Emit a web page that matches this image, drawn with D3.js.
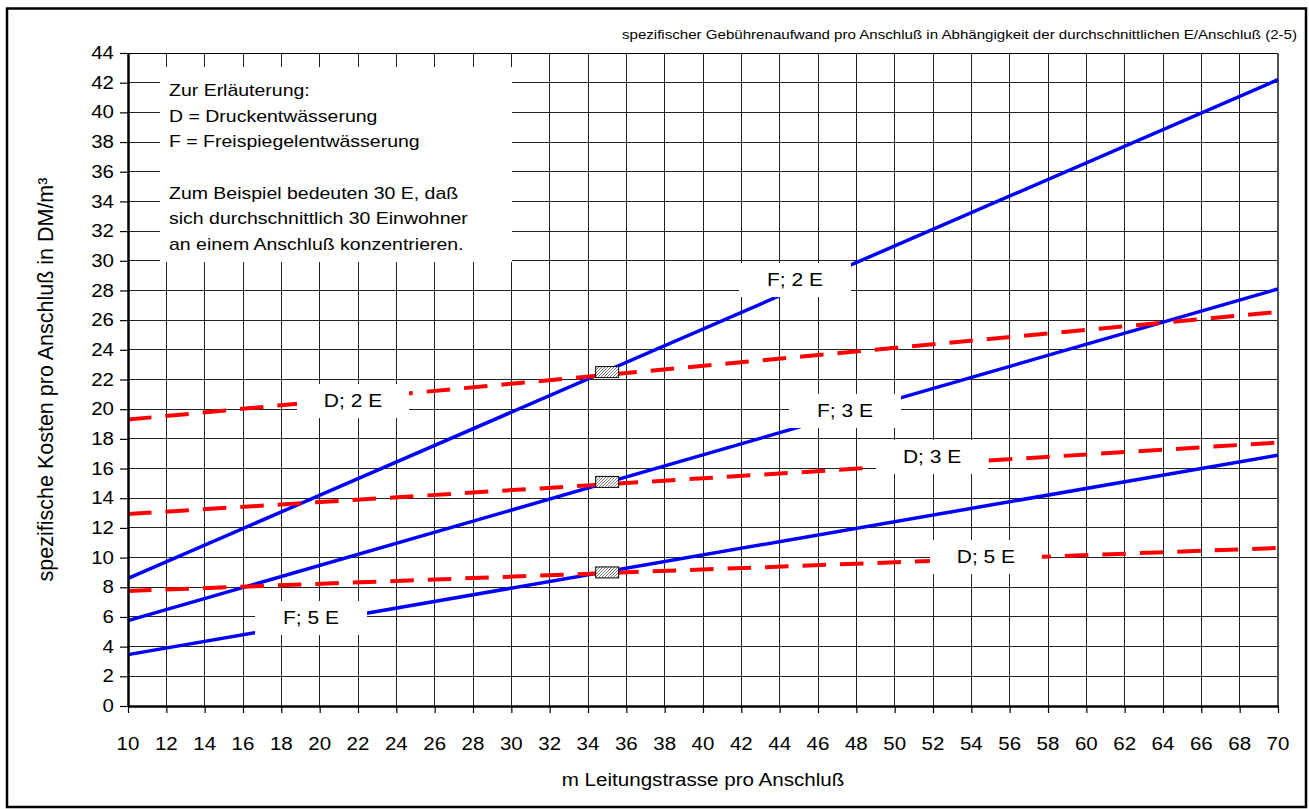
<!DOCTYPE html>
<html>
<head>
<meta charset="utf-8">
<script src="https://cdn.jsdelivr.net/npm/d3@7"></script>
<style>
  body { margin: 0; background: #fff; }
  text { font-family: Arial, "Liberation Sans", sans-serif; fill: #000; }
</style>
</head>
<body>
<svg id="chart" width="1309" height="809"></svg>
<script>
// Axis ranges and tick labels
const xDomain = [10, 70];
const yDomain = [0, 44];
const xTicks = d3.range(10, 71, 2);
const yTicks = d3.range(0, 45, 2);

// m Leitungstrasse pro Anschluß at both ends of every cost line
const trasse = [10, 70];

// Freispiegelentwässerung (F), DM/m³
const F2 = [8.6, 42.2];
const F3 = [5.75, 28.1];
const F5 = [3.46, 16.9];

// Druckentwässerung (D), DM/m³
const D2 = [19.3, 26.55];
const D3 = [12.94, 17.75];
const D5 = [7.75, 10.65];

// Break-even markers at 35 m
const markerX = 35;
const markerY = [22.5, 15.1, 9.0];

// Line labels and their anchors (data units)
const labelNames = ["F; 2 E", "D; 2 E", "F; 3 E", "D; 3 E", "D; 5 E", "F; 5 E"];
const labelAtX = [44.8, 21.74, 47.41, 51.95, 54.76, 19.55];
const labelAtY = [28.7, 20.55, 19.88, 16.78, 10.04, 5.93];

const legendLines = [
  "Zur Erläuterung:",
  "D = Druckentwässerung",
  "F = Freispiegelentwässerung",
  "",
  "Zum Beispiel bedeuten 30 E, daß",
  "sich durchschnittlich 30 Einwohner",
  "an einem Anschluß konzentrieren."
];

const title = "spezifischer Gebührenaufwand pro Anschluß in Abhängigkeit der durchschnittlichen E/Anschluß (2-5)";
const xTitle = "m Leitungstrasse pro Anschluß";
const yTitle = "spezifische Kosten pro Anschluß in DM/m³";

const series = [
  { values: F2, kind: "F" }, { values: F3, kind: "F" }, { values: F5, kind: "F" },
  { values: D2, kind: "D" }, { values: D3, kind: "D" }, { values: D5, kind: "D" }
];

// Layout
const plot = { left: 128, right: 1278, top: 53, bottom: 706 };
const SY = 0.85; // glyphs are set slightly flattened

const svg = d3.select("#chart");
const x = d3.scaleLinear().domain(xDomain).range([plot.left, plot.right]);
const y = d3.scaleLinear().domain(yDomain).range([plot.bottom, plot.top]);

// Outer frame
svg.append("rect")
  .attr("x", 7).attr("y", 8.5).attr("width", 1299).attr("height", 798.5)
  .attr("fill", "#fff").attr("stroke", "#000").attr("stroke-width", 2.5);

// Hatch pattern for the markers
const defs = svg.append("defs");
const pat = defs.append("pattern").attr("id", "hatch")
  .attr("patternUnits", "userSpaceOnUse").attr("width", 3).attr("height", 3);
pat.append("rect").attr("width", 3).attr("height", 3).attr("fill", "#fff");
pat.append("path").attr("d", "M-1,1 L1,-1 M0,3 L3,0 M2,4 L4,2")
  .attr("stroke", "#666").attr("stroke-width", 0.9);

// Grid
const grid = svg.append("g").attr("shape-rendering", "crispEdges");
grid.selectAll("line.v").data(xTicks.filter(t => t > xDomain[0] && t < xDomain[1]))
  .join("line").attr("class", "v")
  .attr("x1", d => x(d)).attr("x2", d => x(d))
  .attr("y1", plot.top).attr("y2", plot.bottom)
  .attr("stroke", "#222").attr("stroke-width", 1);
grid.selectAll("line.h").data(yTicks.filter(t => t > yDomain[0] && t < yDomain[1]))
  .join("line").attr("class", "h")
  .attr("x1", plot.left).attr("x2", plot.right)
  .attr("y1", d => y(d)).attr("y2", d => y(d))
  .attr("stroke", "#222").attr("stroke-width", 1);
// top and right edges of the plot area
grid.append("line").attr("x1", plot.left).attr("x2", plot.right)
  .attr("y1", plot.top).attr("y2", plot.top).attr("stroke", "#000");
grid.append("line").attr("x1", plot.right).attr("x2", plot.right)
  .attr("y1", plot.top).attr("y2", plot.bottom).attr("stroke", "#555").attr("stroke-width", 2);

// Cost lines
const line = d3.line().x((d, i) => x(trasse[i])).y(d => y(d));
svg.append("g").selectAll("path").data(series).join("path")
  .attr("d", d => line(d.values))
  .attr("fill", "none")
  .attr("stroke", d => d.kind === "F" ? "#0000ff" : "#ff0000")
  .attr("stroke-width", d => d.kind === "F" ? 3.5 : 4)
  .attr("stroke-dasharray", d => d.kind === "D" ? "23.5,14" : null);

// Text helper: flattened glyphs around an anchor point
function label(g, tx, ty, str, size, anchor) {
  return g.append("text")
    .attr("transform", `translate(${tx},${ty}) scale(1,${SY})`)
    .attr("dy", "0.35em")
    .attr("text-anchor", anchor || "start")
    .attr("font-size", size)
    .text(str);
}

// Line labels on white boxes
const labels = svg.append("g");
labelNames.forEach((name, i) => {
  const cx = x(labelAtX[i]), cy = y(labelAtY[i]);
  labels.append("rect")
    .attr("x", cx - 56).attr("y", cy - 17).attr("width", 112).attr("height", 34)
    .attr("fill", "#fff");
  label(labels, cx, cy, name, 21, "middle");
});

// Explanation box
const legend = svg.append("g");
legend.append("rect").attr("x", 160).attr("y", 67).attr("width", 352).attr("height", 195)
  .attr("fill", "#fff");
legendLines.forEach((s, i) => {
  if (s) label(legend, 169, 90 + i * 25.7, s, 19.5, "start");
});

// Markers
svg.append("g").selectAll("rect").data(markerY).join("rect")
  .attr("x", x(markerX) - 11.5).attr("y", d => y(d) - 5.5)
  .attr("width", 23).attr("height", 11)
  .attr("fill", "url(#hatch)").attr("stroke", "#000").attr("stroke-width", 1);

// Axes
const xAxis = svg.append("g").attr("transform", `translate(0,${plot.bottom})`)
  .call(d3.axisBottom(x).tickValues(xTicks).tickSize(7).tickSizeOuter(0));
xAxis.select(".domain").attr("stroke-width", 2.5);
xAxis.selectAll(".tick line").attr("stroke-width", 1.2);
xAxis.selectAll(".tick text").remove();

const yAxis = svg.append("g").attr("transform", `translate(${plot.left},0)`)
  .call(d3.axisLeft(y).tickValues(yTicks).tickSize(8).tickSizeOuter(0));
yAxis.select(".domain").attr("stroke-width", 2.5);
yAxis.selectAll(".tick line").attr("stroke-width", 1.2);
yAxis.selectAll(".tick text").remove();

const tickText = svg.append("g");
xTicks.forEach(t => label(tickText, x(t), 744, String(t), 20.5, "middle"));
yTicks.forEach(t => label(tickText, 114, y(t), String(t), 20.5, "end"));

// Titles
label(svg, (plot.left + plot.right) / 2, 780, xTitle, 20.6, "middle");
svg.append("text")
  .attr("transform", `translate(45,${(plot.top + plot.bottom) / 2}) rotate(-90)`)
  .attr("dy", "0.35em").attr("text-anchor", "middle").attr("font-size", 21.5)
  .text(yTitle);
label(svg, 1297, 35, title, 15.1, "end");
</script>
</body>
</html>
